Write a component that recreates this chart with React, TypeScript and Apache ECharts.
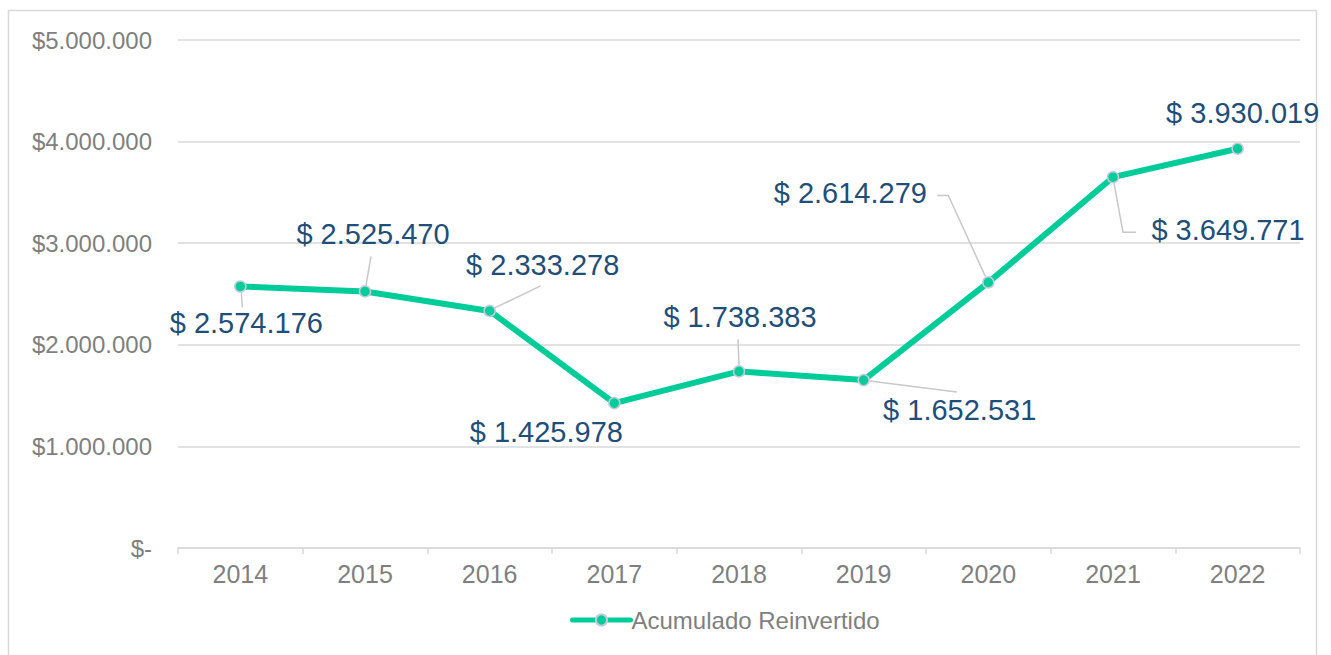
import React, { useEffect, useRef } from "react";
import * as echarts from "echarts";

const years = ["2014", "2015", "2016", "2017", "2018", "2019", "2020", "2021", "2022"];
const acumulado = [2574176, 2525470, 2333278, 1425978, 1738383, 1652531, 2614279, 3649771, 3930019];
const seriesName = "Acumulado Reinvertido";

// label placement (layout only): offset of label centre from its point
const labelDx = [6, 8, 53, -68, 1, 96, -138, 115, 5];
const labelDy = [37, -57, -46, 29, -54, 30, -89, 53, -36];
// leader lines (layout only): polyline vertices relative to the point, null = no leader
const leaders: (number[][] | null)[] = [
  [[1, 6], [2, 21]],
  [[1, -6], [6, -35]],
  [[5, -3], [51, -25]],
  null,
  [[0, -6], [-1, -32]],
  [[6, 1], [93, 12]],
  [[-3, -6], [-40, -87], [-51, -87]],
  [[1, 6], [10, 55], [23, 55]],
  null,
];

const FONT = "'Liberation Sans', Arial, Helvetica, sans-serif";

const fmtDots = (v: number) => String(Math.round(v)).replace(/\B(?=(\d{3})+(?!\d))/g, ".");

export default function App() {
  const ref = useRef<HTMLDivElement>(null);
  useEffect(() => {
    if (!ref.current) return;
    const chart = echarts.init(ref.current, null, { renderer: "svg" });
    const frame = {
      id: "frame",
      type: "rect",
      shape: { x: 8.5, y: 10.5, width: 1308, height: 700 },
      style: { fill: "none", stroke: "#d9d9d9", lineWidth: 1.5 },
      silent: true,
      z: 0,
    };
    chart.setOption({
      animation: false,
      backgroundColor: "#ffffff",
      graphic: [frame],
      grid: { left: 178, right: 31, top: 40, bottom: 107, containLabel: false },
      legend: {
        data: [seriesName],
        left: 565,
        top: 603,
        itemWidth: 58,
        itemHeight: 14,
        itemGap: 10,
        lineStyle: { width: 5, cap: "round" },
        textStyle: { color: "#7f7f7f", fontSize: 24, fontFamily: FONT, padding: [0, 0, 0, -4] },
      },
      xAxis: {
        type: "category",
        data: years,
        boundaryGap: true,
        axisLine: { show: true, lineStyle: { color: "#d9d9d9", width: 1.5 } },
        axisTick: { show: true, alignWithLabel: false, length: 6, lineStyle: { color: "#d9d9d9", width: 1.5 } },
        axisLabel: { color: "#7f7f7f", fontSize: 25, fontFamily: FONT, margin: 13 },
        splitLine: { show: false },
      },
      yAxis: {
        type: "value",
        min: 0,
        max: 5000000,
        interval: 1000000,
        axisLine: { show: false },
        axisTick: { show: false },
        axisLabel: {
          color: "#7f7f7f",
          fontSize: 24,
          fontFamily: FONT,
          margin: 26,
          formatter: (v: number) => (v === 0 ? "$-" : "$" + fmtDots(v)),
        },
        splitLine: { show: true, lineStyle: { color: "#d9d9d9", width: 1.5 } },
      },
      series: [
        {
          name: seriesName,
          type: "line",
          data: acumulado,
          symbol: "circle",
          symbolSize: 11,
          showAllSymbol: true,
          lineStyle: { color: "#00cc99", width: 6 },
          itemStyle: { color: "#00cc99", borderColor: "#c3cbe0", borderWidth: 1.5 },
          label: {
            show: true,
            position: "inside",
            color: "#1f4e79",
            fontSize: 29,
            fontFamily: FONT,
            formatter: (p: any) => "$ " + fmtDots(p.value),
          },
          labelLayout: (p: any) => {
            const i = p.dataIndex;
            const cx = p.rect.x + p.rect.width / 2;
            const cy = p.rect.y + p.rect.height / 2;
            return {
              x: cx + labelDx[i],
              y: cy + labelDy[i],
              align: "center",
              verticalAlign: "middle",
            };
          },
          z: 3,
        },
      ],
    });
    const leaderEls: any[] = [];
    acumulado.forEach((v, i) => {
      const pts = leaders[i];
      if (!pts) return;
      const p = chart.convertToPixel({ seriesIndex: 0 }, [i, v]) as number[];
      leaderEls.push({
        id: "leader" + i,
        type: "polyline",
        shape: { points: pts.map(([dx, dy]) => [p[0] + dx, p[1] + dy]) },
        style: { stroke: "#c8c8c8", lineWidth: 1.5, fill: "none" },
        silent: true,
        z: 2,
      });
    });
    chart.setOption({ graphic: [frame, ...leaderEls] });
    return () => chart.dispose();
  }, []);
  return (
    <div
      ref={ref}
      style={{ position: "fixed", left: 0, top: 0, width: 1331, height: 655, background: "#fff" }}
    />
  );
}
